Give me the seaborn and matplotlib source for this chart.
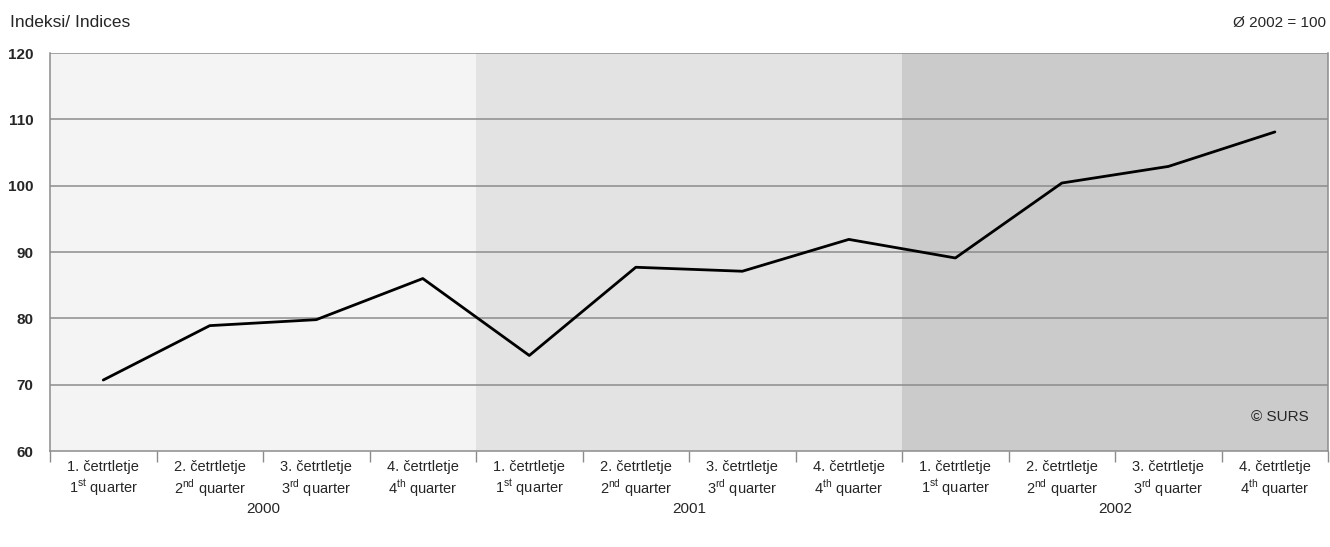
import matplotlib
matplotlib.use("Agg")
import matplotlib.pyplot as plt
import seaborn as sns
import pandas as pd
from matplotlib import font_manager

# data
years = ["2000", "2001", "2002"]
quarters_si = ["1. četrtletje", "2. četrtletje", "3. četrtletje", "4. četrtletje"]
quarters_en = [r"1$^{\mathrm{st}}$ quarter", r"2$^{\mathrm{nd}}$ quarter",
               r"3$^{\mathrm{rd}}$ quarter", r"4$^{\mathrm{th}}$ quarter"]
index_values = [70.7, 78.9, 79.8, 86.0,
                74.4, 87.7, 87.1, 91.9,
                89.1, 100.4, 102.9, 108.1]
year_colors = ["#f4f4f4", "#e3e3e3", "#cbcbcb"]

sns.set_style("white")
names = {f.name for f in font_manager.fontManager.ttflist}
fam = "Liberation Sans Narrow" if "Liberation Sans Narrow" in names else "Liberation Sans"
plt.rcParams["font.family"] = [fam, "DejaVu Sans"]
plt.rcParams["mathtext.fontset"] = "custom"
plt.rcParams["mathtext.rm"] = fam

df = pd.DataFrame({
    "pos": range(len(index_values)),
    "year": [y for y in years for _ in quarters_si],
    "value": index_values,
})

fig = plt.figure(figsize=(13.3, 5.47), dpi=100)
ax = fig.add_axes([0.0376, 0.1755, 0.9610, 0.7276])

# year shading
for i, y in enumerate(years):
    sub = df[df["year"] == y]
    ax.axvspan(sub["pos"].min() - 0.5, sub["pos"].max() + 0.5,
               color=year_colors[i], zorder=0, lw=0)

for v in range(70, 121, 10):
    ax.axhline(v, color="#8c8c8c", lw=1.1, zorder=1)

sns.lineplot(data=df, x="pos", y="value", color="black", lw=2.0, ax=ax, zorder=3)

ax.set_xlim(-0.5, len(index_values) - 0.5)
ax.set_ylim(60, 120)
ax.set_yticks(range(60, 121, 10))
ax.tick_params(axis="y", labelsize=11, length=6, color="#8c8c8c", width=1, pad=6)
for lab in ax.get_yticklabels():
    lab.set_fontweight("bold")

# boundary ticks on x
ax.set_xticks([p - 0.5 for p in df["pos"]] + [len(index_values) - 0.5])
ax.set_xticklabels([])
ax.tick_params(axis="x", length=8, color="#8c8c8c", width=1, bottom=True)
ax.set_xlabel("")
ax.set_ylabel("")

for s in ["left", "bottom", "right"]:
    ax.spines[s].set_color("#8c8c8c")
    ax.spines[s].set_linewidth(1.1)
ax.spines["top"].set_visible(False)

trans = ax.get_xaxis_transform()
for p in df["pos"]:
    q = p % len(quarters_si)
    ax.text(p, -0.072, quarters_si[q] + "\n" + quarters_en[q], transform=trans,
            ha="center", va="center", fontsize=10.5, linespacing=1.2)
for y in years:
    sub = df[df["year"] == y]
    ax.text(sub["pos"].mean(), -0.145, y, transform=trans, ha="center",
            va="center", fontsize=11)

fig.text(0.0075, 0.958, "Indeksi/ Indices", ha="left", va="center", fontsize=12.5)
fig.text(0.997, 0.958, "Ø 2002 = 100", ha="right", va="center", fontsize=11)
ax.text(0.985, 0.085, "© SURS", transform=ax.transAxes, ha="right", va="center",
        fontsize=11)

fig.savefig("out.png", dpi=100)
